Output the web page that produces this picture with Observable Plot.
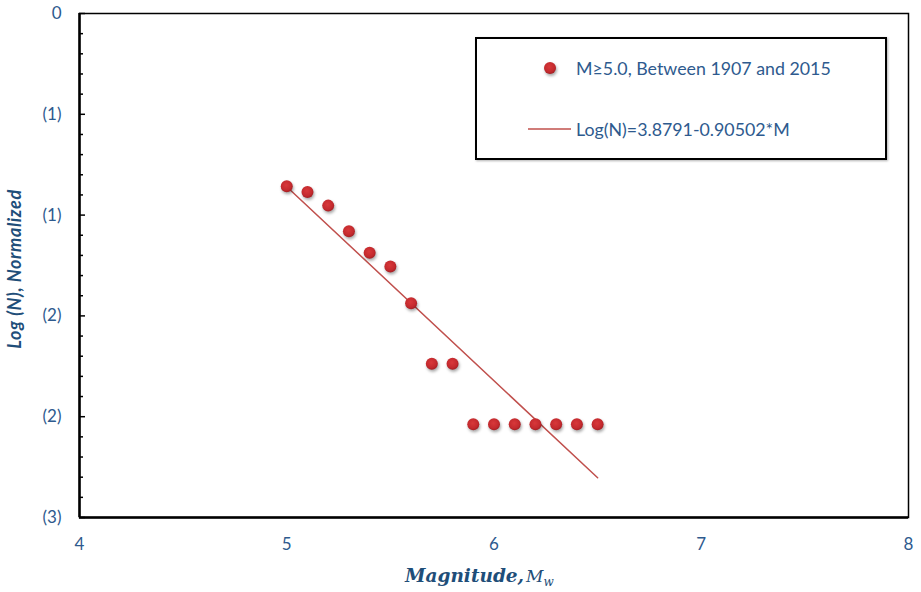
<!DOCTYPE html>
<html><head><meta charset="utf-8">
<script src="https://cdn.jsdelivr.net/npm/d3@7"></script>
<script src="https://cdn.jsdelivr.net/npm/@observablehq/plot@0.6"></script>
<style>
html,body{margin:0;padding:0;background:#fff;}
#chart svg g[aria-label="dot"] circle{filter:drop-shadow(1px 2px 1.5px rgba(0,0,0,0.35));}
</style></head>
<body><div id="chart"></div>
<script>
// Data
const magnitudes = [5.0, 5.1, 5.2, 5.3, 5.4, 5.5, 5.6, 5.7, 5.8, 5.9, 6.0, 6.1, 6.2, 6.3, 6.4, 6.5];
const logN = [-0.857, -0.885, -0.953, -1.080, -1.187, -1.255, -1.437, -1.737, -1.737, -2.038, -2.038, -2.038, -2.038, -2.038, -2.038, -2.038];
const fitM = [5.0, 6.5];
const fitLogN = [-0.859, -2.303];
const xTicks = [4, 5, 6, 7, 8];
const yTicks = [0, -0.5, -1, -1.5, -2, -2.5];
const yTickLabels = ["0", "(1)", "(1)", "(2)", "(2)", "(3)"];
const yMinorTicks = [-0.1, -0.2, -0.3, -0.4, -0.6, -0.7, -0.8, -0.9, -1.1, -1.2, -1.3, -1.4, -1.6, -1.7, -1.8, -1.9, -2.1, -2.2, -2.3, -2.4];
const seriesLabel = "M≥5.0, Between 1907 and 2015";
const fitLabel = "Log(N)=3.8791-0.90502*M";
const xLabel = "Magnitude,";
const yLabel = "Log (N), Normalized";

const points = magnitudes.map((m, i) => ({m, v: logN[i]}));
const fit = fitM.map((m, i) => ({m, v: fitLogN[i]}));
const blue = "#2e5a8e";
const dark = "#1f4e79";

const plot = Plot.plot({
  width: 921, height: 592,
  marginLeft: 79, marginRight: 13, marginTop: 13, marginBottom: 75,
  style: {fontFamily: "Lato, 'Liberation Sans', sans-serif", fontSize: "17px", background: "#fff", color: blue},
  x: {domain: [xTicks[0], xTicks[xTicks.length - 1]]},
  y: {domain: [yTicks[yTicks.length - 1], yTicks[0]]},
  marks: [
    Plot.axisX(xTicks, {tickSize: 0, tickPadding: 20, label: null, fill: blue, tickFormat: d => String(d)}),
    Plot.axisY(yTicks, {tickSize: 0, tickPadding: 18, label: null, fill: blue, tickFormat: d => yTickLabels[yTicks.indexOf(d)]}),
    Plot.axisY(yMinorTicks, {tickSize: 4, dx: 4, fill: "none", label: null, stroke: "black", strokeWidth: 1.5}),
    Plot.axisY(yTicks, {tickSize: 6, dx: 6, fill: "none", label: null, stroke: "black", strokeWidth: 1.5}),
    Plot.frame({stroke: "black", strokeWidth: 1.5}),
    Plot.ruleX([xTicks[0]], {stroke: "black", strokeWidth: 2.5}),
    Plot.ruleY([yTicks[yTicks.length - 1]], {stroke: "black", strokeWidth: 2.5}),
    Plot.line(fit, {x: "m", y: "v", stroke: "#c0504d", strokeWidth: 1.5}),
    Plot.dot(points, {x: "m", y: "v", r: 6, fill: "url(#dotGrad)", stroke: "none"})
  ]
});

const svg = d3.select(plot);
const defs = svg.insert("defs", ":first-child");
const g = defs.append("radialGradient").attr("id", "dotGrad").attr("cx", "45%").attr("cy", "40%").attr("r", "60%");
g.append("stop").attr("offset", "0%").attr("stop-color", "#d8383a");
g.append("stop").attr("offset", "70%").attr("stop-color", "#c42a2e");
g.append("stop").attr("offset", "100%").attr("stop-color", "#a51f24");

// Axis titles
svg.append("text")
  .attr("transform", "translate(21,269) rotate(-90)")
  .attr("text-anchor", "middle")
  .attr("fill", dark)
  .style("font", "italic bold 18px Lato, 'Liberation Sans', sans-serif")
  .style("letter-spacing", "0.6px")
  .text(yLabel);
const xt = svg.append("text")
  .attr("x", 405).attr("y", 582)
  .attr("text-anchor", "start")
  .attr("fill", dark)
  .style("font", "italic bold 18.5px 'DejaVu Serif', serif");
xt.append("tspan").text(xLabel);
xt.append("tspan").attr("dx", 2).style("font-weight", "normal").style("font-size", "17px").text("M");
xt.append("tspan").attr("dy", 4).style("font-weight", "normal").style("font-size", "12px").text("w");

// Legend box
const lg = svg.append("g").attr("text-anchor", "start");
lg.append("rect").attr("x", 476).attr("y", 38).attr("width", 410).attr("height", 121)
  .attr("fill", "#fff").attr("stroke", "#000").attr("stroke-width", 2)
  .style("filter", "drop-shadow(1px 1px 1px rgba(0,0,0,0.3))");
lg.append("circle").attr("cx", 550).attr("cy", 68).attr("r", 6).attr("fill", "url(#dotGrad)")
  .style("filter", "drop-shadow(1px 2px 1.5px rgba(0,0,0,0.35))");
lg.append("text").attr("x", 576).attr("y", 75).attr("fill", blue).attr("text-anchor", "start")
  .style("font", "17.8px Lato, 'Liberation Sans', sans-serif").text(seriesLabel);
lg.append("line").attr("x1", 528).attr("x2", 571).attr("y1", 129).attr("y2", 129)
  .attr("stroke", "#c0504d").attr("stroke-width", 1.5);
lg.append("text").attr("x", 576).attr("y", 136).attr("fill", blue).attr("text-anchor", "start")
  .style("font", "17.8px Lato, 'Liberation Sans', sans-serif").text(fitLabel);

document.getElementById("chart").appendChild(plot);
</script>
</body></html>
